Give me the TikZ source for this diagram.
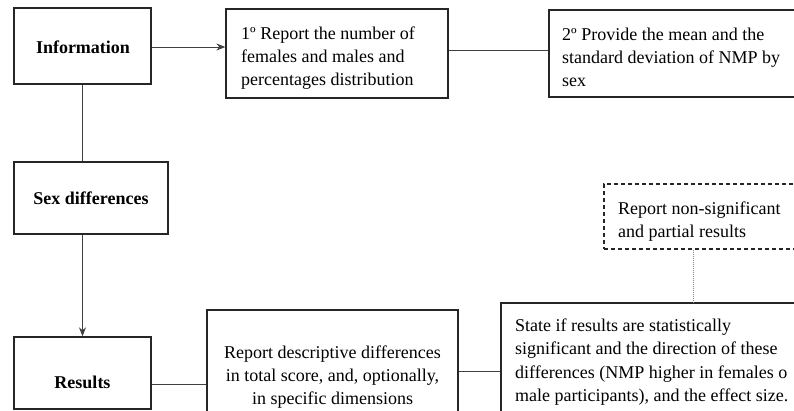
\documentclass[tikz,border=0pt]{standalone}
\usepackage{fontspec}
\setmainfont{Liberation Serif}
\usetikzlibrary{arrows.meta}
\begin{document}
\begin{tikzpicture}[x=1pt,y=-1pt,
  box/.style={draw=black!85,line width=1.3pt,inner sep=0pt},
  dbox/.style={draw=black!85,line width=1.1pt,dash pattern=on 4pt off 3pt,inner sep=0pt},
  txt/.style={inner sep=0pt,font=\fontsize{18}{23.3}\selectfont},
  btxt/.style={inner sep=0pt,font=\fontsize{18}{21}\selectfont\bfseries},
  conn/.style={draw=black!75,line width=0.9pt},
  arr/.style={conn,-{Stealth[length=9pt,width=7pt]}},
  dotconn/.style={draw=black!45,line width=1pt,densely dotted}]
\useasboundingbox (0,0) rectangle (794,411);
\clip (0,0) rectangle (794,411);
% boxes
\node[box,minimum width=137pt,minimum height=76pt] (info) at (82.5,46) {};
\node[box,minimum width=222pt,minimum height=89pt] (rep1) at (337,53.5) {};
\node[box,minimum width=271pt,minimum height=87pt] (rep2) at (684.5,53.5) {};
\node[box,minimum width=154pt,minimum height=72pt] (sex) at (91,198) {};
\node[box,minimum width=137pt,minimum height=72pt] (res) at (82.5,373) {};
\node[box,minimum width=251pt,minimum height=120pt] (desc) at (332.5,370) {};
\node[box,minimum width=319pt,minimum height=127pt] (sig) at (660.5,366.5) {};
\node[dbox,minimum width=216pt,minimum height=65pt] (nonsig) at (712,216.5) {};
% texts
\node[btxt] (infot) at (83,47) {Information};
\node[btxt] (sext) at (sex.center) {Sex differences};
\node[btxt] (rest) at (82.5,382) {Results};
\node[txt,anchor=west,align=left] (rep1t) at (241,58) {1º Report the number of\\females and males and\\percentages distribution};
\node[txt,anchor=west,align=left] (rep2t) at (562,57.5) {2º Provide the mean and the\\standard deviation of NMP by\\sex};
\node[txt,anchor=west,align=left] (nonsigt) at (618,221.5) {Report non-significant\\and partial results};
\node[txt,align=center] (desct) at (332.5,377) {Report descriptive differences\\in total score, and, optionally,\\in specific dimensions};
\node[txt,anchor=west,align=left] (sigt) at (515,362) {State if results are statistically\\significant and the direction of these\\differences (NMP higher in females o\\male participants), and the effect size.};
% connectors
\coordinate (a1) at (info.east |- 0,47);
\draw[arr] (a1) -- (a1 -| rep1.west);
\coordinate (a2) at (rep1.east |- 0,50);
\draw[conn] (a2) -- (a2 -| rep2.west);
\draw[conn] (info.south) -- (info.south |- sex.north);
\draw[arr] (res.north |- sex.south) -- (res.north);
\coordinate (a3) at (res.east |- 0,384);
\draw[conn] (a3) -- (a3 -| desc.west);
\coordinate (a4) at (desc.east |- 0,371);
\draw[conn] (a4) -- (a4 -| sig.west);
\coordinate (a5) at (693,0);
\draw[dotconn] (a5 |- nonsig.south) -- (a5 |- sig.north);
\end{tikzpicture}
\end{document}
